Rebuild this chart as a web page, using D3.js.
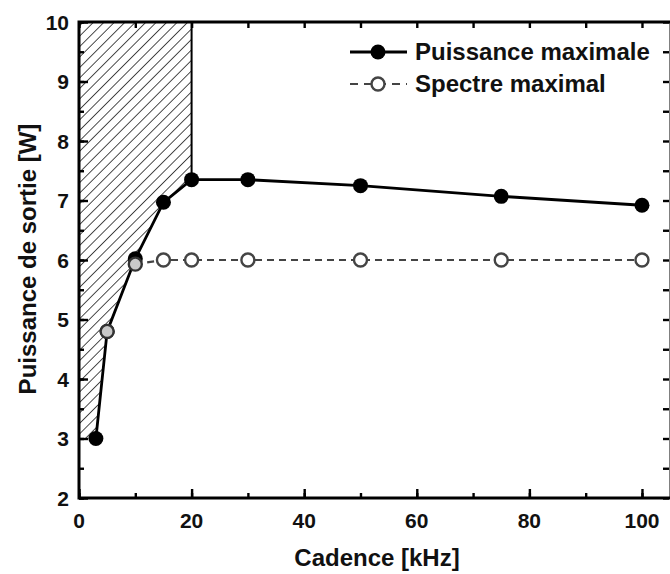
<!DOCTYPE html>
<html><head><meta charset="utf-8">
<script src="https://cdn.jsdelivr.net/npm/d3@7"></script>
<style>body{margin:0;background:#fff}svg{display:block}text{font-family:"Liberation Sans",Arial,sans-serif;font-weight:bold;fill:#111}</style>
</head><body><svg id="c" width="670" height="574"></svg>
<script>
const powerX = [3, 5, 10, 15, 20, 30, 50, 75, 100];
const powerY = [3.0, 4.8, 6.02, 6.97, 7.35, 7.35, 7.25, 7.07, 6.92];
const spectreX = [5, 10, 15, 20, 30, 50, 75, 100];
const spectreY = [4.8, 5.93, 6.0, 6.0, 6.0, 6.0, 6.0, 6.0];
const xTicks = [0, 20, 40, 60, 80, 100];
const yTicks = [2, 3, 4, 5, 6, 7, 8, 9, 10];
const hatchLimit = 20;
const seriesNames = ["Puissance maximale", "Spectre maximal"];
const xTitle = "Cadence [kHz]";
const yTitle = "Puissance de sortie [W]";

const svg = d3.select("#c");
const L = 79, R = 669, T = 22, B = 498;
const x = d3.scaleLinear().domain([0, 104.8]).range([L, R]);
const y = d3.scaleLinear().domain([2, 10]).range([B, T]);

const defs = svg.append("defs");
const pat = defs.append("pattern").attr("id","hatch").attr("patternUnits","userSpaceOnUse")
  .attr("width",7.4).attr("height",7.4).attr("patternTransform","rotate(45)");
pat.append("line").attr("x1",0).attr("y1",0).attr("x2",0).attr("y2",7.4).attr("stroke","#000").attr("stroke-width",1.4);

// hatched region: left of the power curve up to x=20
const pts = powerX.map((v,i)=>[v,powerY[i]]).filter(p=>p[0]<=hatchLimit);
const poly = [[0,10],[hatchLimit,10]].concat(pts.slice().reverse()).concat([[0,pts[0][1]]]);
svg.append("path").attr("d", d3.line().x(d=>x(d[0])).y(d=>y(d[1]))(poly)+"Z")
  .attr("fill","url(#hatch)").attr("stroke","none");
svg.append("line").attr("x1",x(hatchLimit)).attr("x2",x(hatchLimit)).attr("y1",y(10)).attr("y2",y(pts[pts.length-1][1]))
  .attr("stroke","#000").attr("stroke-width",2);

// axes frame and ticks
const g = svg.append("g");
const xMinor = d3.range(0, 101, 10), yMinor = d3.range(2, 10.01, 0.5);
g.append("g").attr("transform",`translate(0,${B})`).call(d3.axisBottom(x).tickValues(xMinor).tickSize(-5).tickFormat(""));
g.append("g").attr("transform",`translate(0,${B})`).call(d3.axisBottom(x).tickValues(xTicks).tickSize(-9).tickFormat(""));
g.append("g").attr("transform",`translate(0,${T})`).call(d3.axisTop(x).tickValues(xMinor).tickSize(-6).tickFormat(""));
g.append("g").attr("transform",`translate(${L},0)`).call(d3.axisLeft(y).tickValues(yMinor).tickSize(-5).tickFormat(""));
g.append("g").attr("transform",`translate(${L},0)`).call(d3.axisLeft(y).tickValues(yTicks).tickSize(-9).tickFormat(""));
g.append("g").attr("transform",`translate(${R},0)`).call(d3.axisRight(y).tickValues(yMinor).tickSize(-6).tickFormat(""));
g.selectAll(".domain").remove();
g.selectAll(".tick line").attr("stroke","#000").attr("stroke-width",2.4);
svg.append("rect").attr("x",L).attr("y",T).attr("width",R-L+2).attr("height",B-T)
  .attr("fill","none").attr("stroke","#000").attr("stroke-width",3);

// tick labels
svg.append("g").selectAll("text").data(xTicks).join("text")
  .attr("x",d=>x(d)).attr("y",B+30).attr("text-anchor","middle").attr("font-size",21).text(d=>d);
svg.append("g").selectAll("text").data(yTicks).join("text")
  .attr("x",L-10).attr("y",d=>y(d)+7.5).attr("text-anchor","end").attr("font-size",21).text(d=>d);
svg.append("text").attr("x",377).attr("y",566).attr("text-anchor","middle").attr("font-size",24).text(xTitle);
svg.append("text").attr("transform","translate(36,259) rotate(-90)").attr("text-anchor","middle").attr("font-size",24).text(yTitle);

// series
const line = d3.line().x(d=>x(d[0])).y(d=>y(d[1]));
const pData = powerX.map((v,i)=>[v,powerY[i]]);
const sData = spectreX.map((v,i)=>[v,spectreY[i]]);
svg.append("path").attr("d",line(sData.filter(d=>d[0]>=10))).attr("fill","none").attr("stroke","#444")
  .attr("stroke-width",2.2).attr("stroke-dasharray","7,5");
svg.append("path").attr("d",line(pData)).attr("fill","none").attr("stroke","#000").attr("stroke-width",2.8);
svg.append("g").selectAll("circle").data(pData).join("circle")
  .attr("cx",d=>x(d[0])).attr("cy",d=>y(d[1])).attr("r",7.5).attr("fill","#000");
// spectre points: grey fill where limited by the power curve
svg.append("g").selectAll("circle").data(sData).join("circle")
  .attr("cx",d=>x(d[0])).attr("cy",d=>y(d[1])).attr("r",6.5)
  .attr("fill",d=>d[1]<5.95?"#c8c8c8":"#fff").attr("stroke",d=>d[1]<5.95?"#333":"#444").attr("stroke-width",2.4);

// legend
const lg = svg.append("g");
lg.append("line").attr("x1",350).attr("x2",407).attr("y1",52).attr("y2",52).attr("stroke","#000").attr("stroke-width",2.8);
lg.append("circle").attr("cx",378).attr("cy",52).attr("r",7.5).attr("fill","#000");
lg.append("text").attr("x",415).attr("y",60).attr("font-size",24).text(seriesNames[0]);
lg.append("line").attr("x1",350).attr("x2",407).attr("y1",84).attr("y2",84).attr("stroke","#444").attr("stroke-width",2.2).attr("stroke-dasharray","8,6");
lg.append("circle").attr("cx",378).attr("cy",84).attr("r",6.5).attr("fill","#fff").attr("stroke","#444").attr("stroke-width",2.4);
lg.append("text").attr("x",415).attr("y",92).attr("font-size",24).text(seriesNames[1]);
</script></body></html>
